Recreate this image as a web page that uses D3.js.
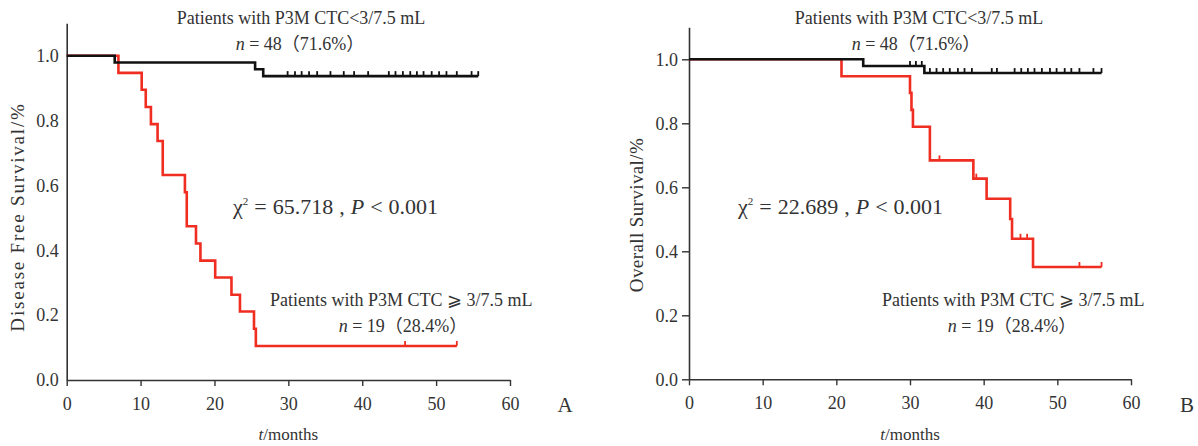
<!DOCTYPE html>
<html>
<head>
<meta charset="utf-8">
<script src="https://cdn.jsdelivr.net/npm/d3@7"></script>
<style>
  body { margin: 0; background: #fff; }
</style>
</head>
<body>
<svg width="1198" height="446"></svg>
<script>
// Kaplan-Meier curves, P3M CTC groups (A: DFS, B: OS)

const monthTicks = [0, 10, 20, 30, 40, 50, 60];
const survTicks = [0, 0.2, 0.4, 0.6, 0.8, 1.0];

// panel A - disease free survival
const dfsLowEventT = [6.5, 25.5, 26.6];
const dfsLowEventS = [0.979, 0.958, 0.937];
const dfsLowEnd = 55.7;
const dfsLowCensT = [29.9, 30.9, 31.8, 32.8, 33.9, 35.7, 37.5, 38.9, 40.8, 43.6, 44.5,
  45.5, 46.5, 47.4, 48.3, 49.4, 50.4, 51.4, 52.8, 54.8, 55.7];

const dfsHighEventT = [7.0, 10.15, 10.7, 11.4, 12.3, 13.0, 16.0, 16.25, 17.5, 18.1,
  20.1, 22.3, 23.45, 25.35, 25.6];
const dfsHighEventS = [0.947, 0.895, 0.842, 0.789, 0.737, 0.632, 0.579, 0.474, 0.421,
  0.368, 0.316, 0.263, 0.211, 0.158, 0.105];
const dfsHighEnd = 52.8;
const dfsHighCensT = [45.8, 52.8];

// panel B - overall survival
const osLowEventT = [23.65, 31.95];
const osLowEventS = [0.979, 0.957];
const osLowEnd = 56.0;
const osLowCensT = [30.0, 30.8, 31.6, 32.7, 33.6, 34.5, 35.4, 36.5, 37.4, 38.4, 41.1,
  41.8, 44.2, 45.1, 46.0, 46.9, 47.9, 49.0, 49.9, 51.0, 51.9, 53.0, 54.9, 56.0];

const osHighEventT = [20.7, 30.0, 30.2, 30.4, 32.7, 38.6, 40.4, 43.6, 43.85, 46.7];
const osHighEventS = [0.947, 0.895, 0.842, 0.789, 0.684, 0.627, 0.564, 0.501, 0.439, 0.351];
const osHighEnd = 56.0;
const osHighCensT = [34.0, 39.0, 45.0, 45.9, 53.0, 56.0];

const red = "#ef2d20";
const black = "#111";
const serif = "'Liberation Serif', 'Times New Roman', 'DejaVu Serif', 'Noto Sans CJK SC', serif";

const svg = d3.select("svg");

// survival value at time t for a step curve
const survAt = (times, surv, t) => {
  let s = 1;
  times.forEach((et, i) => {
    if (et <= t) s = surv[i];
  });
  return s;
};

const addText = (x, y, size) => {
  return svg.append("text")
    .attr("x", x)
    .attr("y", y)
    .attr("fill", "#333")
    .style("font-family", serif)
    .style("font-size", size + "px");
};

const drawCurve = (g, x, y, times, surv, end, cens, color) => {
  const pts = [[0, 1]];
  times.forEach((t, i) => pts.push([t, surv[i]]));
  pts.push([end, surv[surv.length - 1]]);

  const line = d3.line()
    .x((d) => x(d[0]))
    .y((d) => y(d[1]))
    .curve(d3.curveStepAfter);

  g.append("path")
    .attr("d", line(pts))
    .attr("fill", "none")
    .attr("stroke", color)
    .attr("stroke-width", 2.6);

  g.selectAll(null)
    .data(cens)
    .enter()
    .append("line")
    .attr("x1", (d) => x(d))
    .attr("x2", (d) => x(d))
    .attr("y1", (d) => y(survAt(times, surv, d)))
    .attr("y2", (d) => y(survAt(times, surv, d)) - 5)
    .attr("stroke", color)
    .attr("stroke-width", 1.8);
};

const drawPanel = (p) => {
  const x = d3.scaleLinear().domain([0, 60]).range([p.left, p.right]);
  const y = d3.scaleLinear().domain([0, 1.1]).range([p.bottom, p.bottom - 1.1 * p.unit]);

  const xAxis = d3.axisBottom(x)
    .tickValues(monthTicks)
    .tickFormat(d3.format("d"))
    .tickSize(6)
    .tickSizeOuter(0)
    .tickPadding(11);

  const yAxis = d3.axisLeft(y)
    .tickValues(survTicks)
    .tickFormat(d3.format(".1f"))
    .tickSize(p.yTick)
    .tickSizeOuter(0)
    .tickPadding(p.yTick ? 4 : 8);

  const gx = svg.append("g")
    .attr("transform", "translate(0," + p.bottom + ")")
    .call(xAxis);
  const gy = svg.append("g")
    .attr("transform", "translate(" + p.left + ",0)")
    .call(yAxis);

  [gx, gy].forEach((g) => {
    g.attr("font-family", serif).attr("font-size", 18);
    g.select(".domain").attr("stroke", "#333").attr("stroke-width", 1.6);
    g.selectAll(".tick line").attr("stroke", "#333").attr("stroke-width", 1.4);
    g.selectAll(".tick text")
      .style("font-family", serif)
      .style("font-size", "18px")
      .attr("fill", "#333");
  });

  const g = svg.append("g");
  drawCurve(g, x, y, p.highT, p.highS, p.highEnd, p.highCens, red);
  drawCurve(g, x, y, p.lowT, p.lowS, p.lowEnd, p.lowCens, black);

  // annotations
  addText(p.titleX, 24, 18)
    .attr("text-anchor", "middle")
    .text("Patients with P3M CTC<3/7.5 mL");

  const n1 = addText(p.nLowX, 50, 18).attr("text-anchor", "middle");
  n1.append("tspan").attr("font-style", "italic").text("n");
  n1.append("tspan").text(" = 48（71.6%）");

  const chi = addText(p.chiX, 214, 22).style("word-spacing", "0.5px");
  chi.append("tspan").text("χ");
  chi.append("tspan").attr("dy", -9).style("font-size", "11px").text("2");
  chi.append("tspan").attr("dy", 9).text(" = " + p.chi + " , ");
  chi.append("tspan").attr("font-style", "italic").text("P");
  chi.append("tspan").text(" < 0.001");

  addText(p.highX, 306, 18).text("Patients with P3M CTC ⩾ 3/7.5 mL");

  const n2 = addText(p.nHighX, 332, 18).attr("text-anchor", "middle");
  n2.append("tspan").attr("font-style", "italic").text("n");
  n2.append("tspan").text(" = 19（28.4%）");

  const xl = addText((p.left + p.right) / 2, 440, 17).attr("text-anchor", "middle");
  xl.append("tspan").attr("font-style", "italic").text("t");
  xl.append("tspan").text("/months");

  addText(0, 0, 19)
    .attr("transform", "translate(" + p.yLabelX + "," + p.yLabelY + ") rotate(-90)")
    .attr("text-anchor", "middle")
    .style("letter-spacing", p.yLabelSpacing + "px")
    .text(p.yLabel);

  addText(p.letterX, 412, 21)
    .attr("text-anchor", "middle")
    .text(p.letter);
};

drawPanel({
  left: 66.7, right: 510, bottom: 380, unit: 324.3, yTick: 0,
  lowT: dfsLowEventT, lowS: dfsLowEventS, lowEnd: dfsLowEnd, lowCens: dfsLowCensT,
  highT: dfsHighEventT, highS: dfsHighEventS, highEnd: dfsHighEnd, highCens: dfsHighCensT,
  titleX: 301, nLowX: 300, chiX: 233, chi: "65.718", highX: 270, nHighX: 403,
  yLabel: "Disease Free Survival/%", yLabelX: 24, yLabelY: 217, yLabelSpacing: 1.8,
  letter: "A", letterX: 565
});

drawPanel({
  left: 689, right: 1131, bottom: 379.3, unit: 320, yTick: 7,
  lowT: osLowEventT, lowS: osLowEventS, lowEnd: osLowEnd, lowCens: osLowCensT,
  highT: osHighEventT, highS: osHighEventS, highEnd: osHighEnd, highCens: osHighCensT,
  titleX: 919, nLowX: 916, chiX: 738, chi: "22.689", highX: 882, nHighX: 1012,
  yLabel: "Overall Survival/%", yLabelX: 643, yLabelY: 215, yLabelSpacing: 0.4,
  letter: "B", letterX: 1187
});
</script>
</body>
</html>
